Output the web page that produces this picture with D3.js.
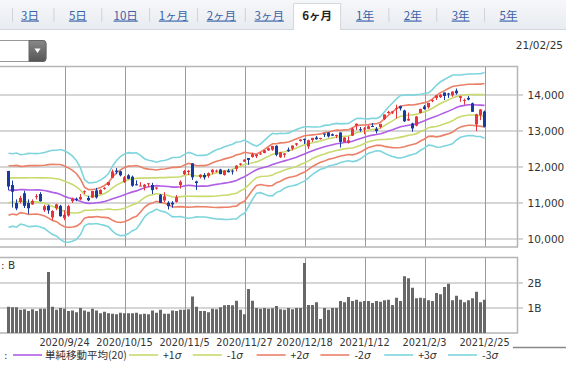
<!DOCTYPE html>
<html><head><meta charset="utf-8">
<script src="https://cdn.jsdelivr.net/npm/d3@7"></script>
<style>body{margin:0;background:#fff}svg{display:block}</style>
</head><body><svg id="c" width="566" height="373"></svg>
<script>
const tabs = ["3日","5日","10日","1ヶ月","2ヶ月","3ヶ月","6ヶ月","1年","2年","3年","5年"];
const selectedTab = "6ヶ月";
const asOfLabel = "21/02/25";
const dates = [
"2020/9/3","2020/9/4","2020/9/8","2020/9/9","2020/9/10","2020/9/11","2020/9/14","2020/9/15","2020/9/16","2020/9/17",
"2020/9/18","2020/9/21","2020/9/22","2020/9/23","2020/9/24","2020/9/25","2020/9/28","2020/9/29","2020/9/30","2020/10/1",
"2020/10/2","2020/10/5","2020/10/6","2020/10/7","2020/10/8","2020/10/9","2020/10/12","2020/10/13","2020/10/14","2020/10/15",
"2020/10/16","2020/10/19","2020/10/20","2020/10/21","2020/10/22","2020/10/23","2020/10/26","2020/10/27","2020/10/28","2020/10/29",
"2020/10/30","2020/11/2","2020/11/3","2020/11/4","2020/11/5","2020/11/6","2020/11/9","2020/11/10","2020/11/11","2020/11/12",
"2020/11/13","2020/11/16","2020/11/17","2020/11/18","2020/11/19","2020/11/20","2020/11/23","2020/11/24","2020/11/25","2020/11/27",
"2020/11/30","2020/12/1","2020/12/2","2020/12/3","2020/12/4","2020/12/7","2020/12/8","2020/12/9","2020/12/10","2020/12/11",
"2020/12/14","2020/12/15","2020/12/16","2020/12/17","2020/12/18","2020/12/21","2020/12/22","2020/12/23","2020/12/24","2020/12/28",
"2020/12/29","2020/12/30","2020/12/31","2021/1/4","2021/1/5","2021/1/6","2021/1/7","2021/1/8","2021/1/11","2021/1/12",
"2021/1/13","2021/1/14","2021/1/15","2021/1/19","2021/1/20","2021/1/21","2021/1/22","2021/1/25","2021/1/26","2021/1/27",
"2021/1/28","2021/1/29","2021/2/1","2021/2/2","2021/2/3","2021/2/4","2021/2/5","2021/2/8","2021/2/9","2021/2/10",
"2021/2/11","2021/2/12","2021/2/16","2021/2/17","2021/2/18","2021/2/19","2021/2/22","2021/2/23","2021/2/24","2021/2/25"];
const open = [
11890,11500,11000,11030,11270,11000,10960,11180,11250,10800,
10920,10600,10850,10920,10580,10650,11050,11120,11100,11300,
11140,11150,11350,11250,11400,11500,11700,11900,11880,11580,
11770,11730,11520,11480,11450,11520,11500,11400,11230,11070,
11010,11010,11030,11500,11800,11860,12100,11600,11720,11780,
11750,11850,11890,11930,11780,11900,11900,11950,12070,12150,
12250,12280,12300,12370,12390,12460,12480,12590,12270,12340,
12480,12510,12620,12720,12780,12570,12750,12820,12790,12930,
12960,12910,12880,12960,12690,12670,12870,13150,13050,13050,
13060,13140,13060,13110,13330,13500,13510,13620,13690,13570,
13290,13210,13150,13500,13680,13660,13850,13920,13940,14070,
14040,13990,14120,13920,13860,13920,13770,13180,13440,13540];
const high = [
11894,11624,11100,11200,11340,11100,11100,11250,11300,10950,
10950,10800,10980,10950,10800,10950,11150,11150,11250,11350,
11200,11340,11420,11380,11440,11580,11930,11970,11900,11750,
11800,11760,11630,11580,11530,11550,11560,11440,11250,11300,
11050,11050,11220,11630,11920,11920,12110,11620,11800,11830,
11850,11940,11930,11950,11910,11950,11930,12050,12110,12210,
12250,12400,12360,12420,12470,12540,12590,12600,12420,12380,
12540,12600,12670,12770,12790,12760,12810,12860,12810,12930,
12970,12930,12900,12960,12830,12850,13090,13210,13110,13110,
13160,13220,13110,13200,13460,13560,13550,13730,13700,13590,
13510,13230,13420,13620,13720,13780,13880,13990,14030,14070,
14060,14100,14180,13980,13900,13970,13790,13480,13610,13570];
const low = [
11361,10875,10800,10990,10860,10700,10950,11100,11040,10750,
10700,10520,10800,10620,10520,10620,11000,11050,11080,11250,
11050,11140,11120,11240,11370,11480,11690,11800,11740,11560,
11660,11450,11490,11470,11350,11450,11250,11370,11000,11020,
10820,10870,11010,11400,11780,11780,11640,11360,11680,11650,
11700,11800,11850,11800,11760,11850,11790,11880,12040,12140,
12060,12260,12250,12340,12380,12450,12450,12300,12250,12260,
12420,12460,12580,12710,12640,12500,12700,12760,12760,12830,
12820,12860,12800,12540,12690,12650,12860,13030,12980,12910,
13050,13110,12930,13070,13300,13480,13470,13350,13570,13250,
13280,12980,13130,13490,13590,13620,13800,13860,13920,13860,
13920,13950,14010,13810,13730,13850,13530,13000,13300,13100];
const close = [
11458,11313,10848,11142,10920,10854,11057,11190,11050,10910,
10793,10779,10964,10633,10672,10914,11118,11085,11168,11327,
11075,11332,11155,11365,11421,11580,11876,11864,11769,11714,
11672,11479,11516,11485,11506,11548,11359,11431,11005,11186,
10912,10958,11161,11591,11891,11895,11714,11554,11786,11710,
11829,11924,11899,11802,11905,11855,11881,12037,12094,12206,
12199,12355,12349,12377,12464,12520,12583,12339,12406,12378,
12440,12595,12658,12765,12756,12743,12808,12771,12805,12899,
12850,12870,12888,12698,12819,12741,13067,13202,13036,13072,
13129,13113,12999,13197,13457,13531,13543,13636,13626,13271,
13337,13071,13403,13613,13611,13778,13856,13988,14008,13973,
14026,14095,14048,13965,13865,13874,13533,13465,13598,13119];
const volume = [
1.05,1.03,1.03,0.93,0.95,0.88,0.95,0.88,0.97,0.97,
2.44,1.05,0.93,1.00,0.97,0.88,0.90,0.83,1.00,0.90,
0.85,0.97,0.90,0.79,0.85,0.79,0.77,0.75,0.81,0.79,
0.79,0.79,0.81,0.75,0.77,0.75,0.90,0.81,0.93,0.77,
0.77,0.90,0.88,0.93,0.93,0.95,1.46,1.05,0.88,0.88,
0.83,0.97,0.95,1.03,1.11,1.12,1.11,1.29,0.93,0.75,
1.76,1.29,1.00,0.97,1.00,0.97,0.99,1.08,0.95,0.93,
1.00,0.95,1.00,1.00,2.80,1.12,1.12,1.23,0.56,1.00,
0.93,1.00,1.00,1.28,1.23,1.44,1.28,1.33,1.25,1.28,
1.28,1.20,1.28,1.25,1.31,1.33,1.12,1.41,1.28,2.27,
2.19,1.81,1.39,1.41,1.39,1.31,1.28,1.60,1.55,1.84,
1.97,1.31,1.49,1.33,1.23,1.31,1.39,1.65,1.23,1.33];
// closes of the 19 sessions before the first shown day (for the 20-day bands)
const priorCloses = [11011,10968,10783,11012,11043,11019,11130,11211,11146,11265,11312,11380,11466,11665,11625,11696,11775,11940,12056];
const priceTicks = [10000,11000,12000,13000,14000];
const volTicks = [1,2];
const dateTicks = ["2020/9/24","2020/10/15","2020/11/5","2020/11/27","2020/12/18","2021/1/12","2021/2/3","2021/2/25"];
const legendLabels = ["単純移動平均(20)","+1σ","-1σ","+2σ","-2σ","+3σ","-3σ"];
const bandKeys = ["ma","p1","m1","p2","m2","p3","m3"];
const bandColors = {ma:"#b05ee6",p1:"#c9da6e",m1:"#c9da6e",p2:"#ea8068",m2:"#ea8068",p3:"#7fd5dd",m3:"#7fd5dd"};

const svg = d3.select("#c");
const JP = "'Noto Sans CJK JP','Noto Sans',sans-serif";
const NUM = "'DejaVu Sans',sans-serif";

// ---- tab bar
const defs = svg.append("defs");
const g1 = defs.append("linearGradient").attr("id","tabbg").attr("x1",0).attr("y1",0).attr("x2",0).attr("y2",1);
g1.append("stop").attr("offset","0").attr("stop-color","#f6f7f9");
g1.append("stop").attr("offset","1").attr("stop-color","#e8ebf0");
const g2 = defs.append("linearGradient").attr("id","btn").attr("x1",0).attr("y1",0).attr("x2",0).attr("y2",1);
g2.append("stop").attr("offset","0").attr("stop-color","#888");
g2.append("stop").attr("offset","1").attr("stop-color","#555");

svg.append("rect").attr("x",0).attr("y",0).attr("width",566).attr("height",30).attr("fill","url(#tabbg)");
svg.append("line").attr("x1",0).attr("x2",566).attr("y1",29.5).attr("y2",29.5).attr("stroke","#d3d7de");
const tx = d3.scalePoint().domain(tabs).range([30,508.5]);
const selX = tx(selectedTab);
svg.append("path").attr("d",`M${selX-23.5},30 V3.5 H${selX+23.5} V30`).attr("fill","#fff").attr("stroke","#d3d7de");
tabs.forEach((t,i)=>{
  if(i>0 && t!==selectedTab && tabs[i-1]!==selectedTab){
    const sx = (tx(tabs[i-1])+tx(t))/2;
    svg.append("line").attr("x1",sx).attr("x2",sx).attr("y1",8).attr("y2",22).attr("stroke","#cfd3da");
  }
});
svg.append("line").attr("x1",12.5).attr("x2",12.5).attr("y1",8).attr("y2",22).attr("stroke","#cfd3da");
svg.selectAll("text.tab").data(tabs).enter().append("text")
  .attr("x",d=>tx(d)).attr("y",19.5).attr("text-anchor","middle")
  .attr("font-family",JP).attr("font-size",11.5)
  .attr("font-weight",d=>d===selectedTab?"bold":"normal")
  .attr("fill",d=>d===selectedTab?"#222":"#3a62a8")
  .attr("text-decoration",d=>d===selectedTab?"none":"underline")
  .text(d=>d);

// ---- dropdown + date
svg.append("rect").attr("x",-6).attr("y",40.5).attr("width",52).attr("height",21).attr("rx",3).attr("fill","#fff").attr("stroke","#999");
svg.append("path").attr("d","M29,40.5 H43 a3,3 0 0 1 3,3 V58.5 a3,3 0 0 1 -3,3 H29 Z").attr("fill","url(#btn)").attr("stroke","#666");
svg.append("path").attr("d","M34.5,48.5 L40.5,48.5 L37.5,53 Z").attr("fill","#fff");
svg.append("text").attr("x",563).attr("y",49).attr("text-anchor","end").attr("font-family",NUM).attr("font-size",10.5).attr("fill","#333").text(asOfLabel);

// ---- scales
const x = d3.scaleBand().domain(dates).range([6.5,486.5]).paddingInner(0.25).paddingOuter(0.125);
const cx = d => x(d) + x.bandwidth()/2;
const y = d3.scaleLinear().domain([10000,14000]).range([239,95]);
const yv = d3.scaleLinear().domain([0,2]).range([333,283]);
const P = {top:66.5, bottom:247, right:517.5, vtop:257.5, vbottom:333};

// ---- grids
const gridG = svg.append("g");
gridG.selectAll("line.h").data(priceTicks).enter().append("line")
  .attr("x1",0).attr("x2",523).attr("y1",d=>y(d)).attr("y2",d=>y(d)).attr("stroke","#c9c9c9").attr("stroke-width",1.5);
gridG.selectAll("line.hv").data(volTicks).enter().append("line")
  .attr("x1",0).attr("x2",523).attr("y1",d=>yv(d)).attr("y2",d=>yv(d)).attr("stroke","#c9c9c9").attr("stroke-width",1.5);
gridG.selectAll("line.v").data(dateTicks).enter().append("line")
  .attr("x1",d=>Math.round(cx(d))+0.5).attr("x2",d=>Math.round(cx(d))+0.5).attr("y1",P.top).attr("y2",P.bottom).attr("stroke","#9a9a9a");
gridG.selectAll("line.vv").data(dateTicks).enter().append("line")
  .attr("x1",d=>Math.round(cx(d))+0.5).attr("x2",d=>Math.round(cx(d))+0.5).attr("y1",P.vtop).attr("y2",P.vbottom).attr("stroke","#9a9a9a");
// frames
[[P.top,P.bottom],[P.vtop,P.vbottom]].forEach(([t,b])=>{
  svg.append("path").attr("d",`M0,${t} H${P.right} V${b} H0`).attr("fill","none").attr("stroke","#b5b5b5").attr("stroke-width",1.5);
});

// ---- axes (labels)
const ya = svg.append("g").attr("transform",`translate(${P.right},0)`)
  .call(d3.axisRight(y).tickValues(priceTicks).tickFormat(d3.format(",")).tickSize(0).tickPadding(10));
ya.select(".domain").remove();
ya.selectAll("text").attr("font-family",NUM).attr("font-size",10.5).attr("fill","#333");
const yva = svg.append("g").attr("transform",`translate(${P.right},0)`)
  .call(d3.axisRight(yv).tickValues(volTicks).tickFormat(d=>d+"B").tickSize(0).tickPadding(10));
yva.select(".domain").remove();
yva.selectAll("text").attr("font-family",NUM).attr("font-size",10.5).attr("fill","#333");
const xa = svg.append("g").attr("transform",`translate(0,${P.vbottom})`)
  .call(d3.axisBottom(x).tickValues(dateTicks).tickSize(0).tickPadding(6));
xa.select(".domain").remove();
xa.selectAll("text").attr("font-family",NUM).attr("font-size",9.8).attr("fill","#333").attr("dy","0.75em");

// ---- bollinger bands (20-day, computed from closes)
const allClose = priorCloses.concat(close);
const n = priorCloses.length;
const bands = dates.map((d,i)=>{
  const w = allClose.slice(i+n-19, i+n+1);
  const m = d3.mean(w);
  const sd = Math.sqrt(d3.mean(w.map(v=>(v-m)*(v-m))));
  return {d, ma:m, p1:m+sd, m1:m-sd, p2:m+2*sd, m2:m-2*sd, p3:m+3*sd, m3:m-3*sd};
});
const bandOrder = ["p3","m3","p2","m2","p1","m1","ma"];
bandOrder.forEach(k=>{
  svg.append("path").datum(bands)
    .attr("d", d3.line().x(b=>cx(b.d)).y(b=>y(b[k])))
    .attr("fill","none").attr("stroke",bandColors[k]).attr("stroke-width",1.6);
});

// ---- candles
const UP="#e8333d", DN="#1b3a9e";
const cg = svg.append("g");
dates.forEach((d,i)=>{
  const col = close[i]>=open[i]?UP:DN;
  cg.append("line").attr("x1",cx(d)).attr("x2",cx(d)).attr("y1",y(high[i])).attr("y2",y(low[i])).attr("stroke",col).attr("stroke-width",1);
  const top = y(Math.max(open[i],close[i])), bot = y(Math.min(open[i],close[i]));
  cg.append("rect").attr("x",x(d)).attr("y",top).attr("width",x.bandwidth()).attr("height",Math.max(1,bot-top)).attr("fill",col);
});

// ---- volume bars
svg.append("g").selectAll("rect").data(dates).enter().append("rect")
  .attr("x",d=>x(d)).attr("width",x.bandwidth())
  .attr("y",(d,i)=>yv(volume[i])).attr("height",(d,i)=>yv(0)-yv(volume[i]))
  .attr("fill","#686868");
svg.append("text").attr("x",1).attr("y",269).attr("font-family",NUM).attr("font-size",10.5).attr("fill","#333").text(": B");

// ---- divider + legend
svg.append("line").attr("x1",513).attr("x2",566).attr("y1",347.5).attr("y2",347.5).attr("stroke","#888").attr("stroke-width",1.5);
const LY = 355;
svg.append("text").attr("x",4).attr("y",LY+4).attr("font-family",NUM).attr("font-size",10.5).attr("fill","#333").text(":");
legendLabels.forEach((lab,i)=>{
  const lx = i===0 ? 13 : 129 + (i-1)*63.8;
  const k = bandKeys[i];
  svg.append("line").attr("x1",lx).attr("x2",lx+29).attr("y1",LY).attr("y2",LY).attr("stroke",bandColors[k]).attr("stroke-width",1.6);
  const t = svg.append("text").attr("x",lx+(i===0?32:34)).attr("y",LY+4).attr("font-family",JP).attr("font-size",10.5).attr("fill","#333");
  if(lab.includes("σ")){
    t.append("tspan").text(lab.replace("σ",""));
    t.append("tspan").attr("font-style","italic").attr("font-family",NUM).text("σ");
  } else t.text(lab);
});
</script></body></html>
